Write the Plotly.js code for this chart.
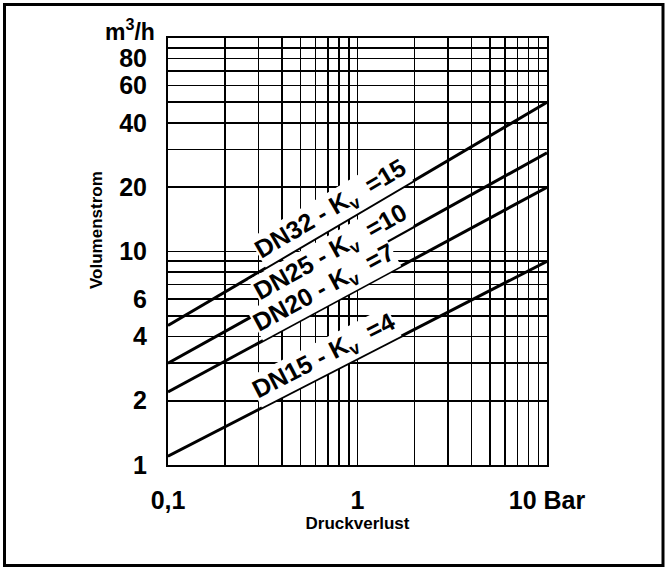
<!DOCTYPE html>
<html>
<head>
<meta charset="utf-8">
<script src="https://cdn.plot.ly/plotly-3.0.1.min.js"></script>
<style>
  html, body { margin: 0; padding: 0; background: #fff; }
  #chart { width: 667px; height: 571px; }
</style>
</head>
<body>
<div id="chart"></div>
<script>
// ---- data ----
const pressureBar = [0.1, 10];          // Druckverlust (Bar), line end points
const flowDN15 = [1.1, 9];              // Volumenstrom m³/h
const flowDN20 = [2.2, 20];
const flowDN25 = [3.0, 29];
const flowDN32 = [4.5, 50];
const seriesLabels = ['DN15 - K<sub>v</sub>\u00a0\u00a0=4', 'DN20 - K<sub>v</sub>\u00a0\u00a0=7',
                      'DN25 - K<sub>v</sub>\u00a0\u00a0=10', 'DN32 - K<sub>v</sub>\u00a0\u00a0=15'];

const xGridVals = [0.1,0.2,0.3,0.4,0.5,0.6,0.7,0.8,0.9,1,2,3,4,5,6,7,8,9,10];
const xTickText = ['0,1','','','','','','','','','1','','','','','','','','','10 Bar'];
const yGridVals = [1,2,3,4,5,6,7,8,9,10,20,30,40,50,60,70,80,90,100];
const yTickText = ['1','2','','4','','6','','','','10','20','','40','','60','','80','',''];

const series = [flowDN15, flowDN20, flowDN25, flowDN32];

const FONT = 'Liberation Sans, Arial, Helvetica, sans-serif';

const traces = series.map((ys, i) => ({
  type: 'scatter', mode: 'lines',
  x: pressureBar, y: ys,
  line: { color: '#000', width: 3 },
  showlegend: false, hoverinfo: 'x+y',
  name: seriesLabels[i]
}));

// plot area geometry (px)
const L = 168, R = 120, T = 38, B = 106, W = 667, H = 571;
const pw = W - L - R, ph = H - T - B;
const pxPerDecX = pw / 2, pxPerDecY = ph / 2;

// label placement along each line
const labelXFrac = [0.432, 0.432, 0.452, 0.452];
const annotations = series.map((ys, i) => {
  const lx0 = Math.log10(pressureBar[0]), lx1 = Math.log10(pressureBar[1]);
  const ly0 = Math.log10(ys[0]), ly1 = Math.log10(ys[1]);
  const ax = -1 + labelXFrac[i] * 2;
  const ay = ly0 + (ly1 - ly0) * (ax - lx0) / (lx1 - lx0);
  const theta = Math.atan(((ly1 - ly0) * pxPerDecY) / ((lx1 - lx0) * pxPerDecX));
  const d = 17;
  return {
    xref: 'x', yref: 'y', x: ax, y: ay,
    xanchor: 'center', yanchor: 'middle',
    xshift: -d * Math.sin(theta), yshift: d * Math.cos(theta),
    text: seriesLabels[i], showarrow: false,
    textangle: -theta * 180 / Math.PI,
    font: { family: FONT, size: 25, color: '#000', weight: 'bold' },
    bgcolor: '#fff', borderpad: 0
  };
});

annotations.push({
  xref: 'paper', yref: 'paper', x: (157 - L) / pw, y: (H - B - 30) / ph,
  xanchor: 'right', yanchor: 'middle', showarrow: false,
  text: 'm<sup>3</sup>/h',
  font: { family: FONT, size: 23, color: '#000', weight: 'bold' }
});
annotations.push({
  xref: 'paper', yref: 'paper', x: (96 - L) / pw, y: (H - B - 230) / ph,
  xanchor: 'center', yanchor: 'middle', showarrow: false, textangle: -90,
  text: 'Volumenstrom',
  font: { family: FONT, size: 17, color: '#000', weight: 'bold' }
});

const layout = {
  width: W, height: H,
  margin: { l: L, r: R, t: T, b: B, pad: 0 },
  paper_bgcolor: '#fff', plot_bgcolor: '#fff',
  showlegend: false,
  xaxis: {
    type: 'log', range: [-1, 1], autorange: false,
    tickmode: 'array', tickvals: xGridVals, ticktext: xTickText,
    ticks: '', ticklabelstandoff: 12,
    tickfont: { family: FONT, size: 25, color: '#000', weight: 'bold' },
    showgrid: true, gridcolor: '#000', gridwidth: 1.6,
    showline: true, linecolor: '#000', linewidth: 2, mirror: true,
    zeroline: false,
    title: { text: 'Druckverlust', standoff: 3,
             font: { family: FONT, size: 17, color: '#000', weight: 'bold' } }
  },
  yaxis: {
    type: 'log', range: [0, 2], autorange: false,
    tickmode: 'array', tickvals: yGridVals, ticktext: yTickText,
    ticks: '', ticklabelstandoff: 14,
    tickfont: { family: FONT, size: 25, color: '#000', weight: 'bold' },
    showgrid: true, gridcolor: '#000', gridwidth: 1.6,
    showline: true, linecolor: '#000', linewidth: 2, mirror: true,
    zeroline: false,
    title: { text: '' }
  },
  shapes: [{
    type: 'rect', xref: 'paper', yref: 'paper',
    x0: (4.5 - L) / pw, x1: (663 - L) / pw,
    y0: (H - B - 565.5) / ph, y1: (H - B - 4.5) / ph,
    line: { color: '#000', width: 3 }, fillcolor: 'rgba(0,0,0,0)', layer: 'above'
  }],
  annotations: annotations
};

Plotly.newPlot('chart', traces, layout, { displayModeBar: false, staticPlot: true });
</script>
</body>
</html>
